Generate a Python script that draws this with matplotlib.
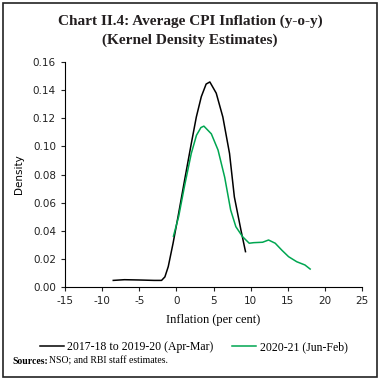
import matplotlib
matplotlib.use("Agg")
import matplotlib.pyplot as plt
from matplotlib.patches import Rectangle

plt.rcParams["axes.unicode_minus"] = False

# density curves
pre_x = [-8.5, -7.0, -5.1, -3.0, -2.0, -1.55, -1.1, -0.45, 0.22, 1.1, 2.0, 2.68,
         3.35, 4.0, 4.5, 5.36, 6.25, 7.15, 7.8, 8.7, 9.3]
pre_y = [0.0045, 0.005, 0.0048, 0.0045, 0.0045, 0.007, 0.0143, 0.031, 0.050, 0.076,
         0.102, 0.121, 0.1355, 0.1445, 0.146, 0.138, 0.121, 0.095, 0.064, 0.040, 0.025]

cur_x = [-0.4, 0.3, 1.1, 2.0, 2.7, 3.3, 3.7, 4.7, 5.6, 6.5, 7.3, 8.0, 8.9, 9.8,
         10.4, 11.6, 12.4, 13.3, 14.2, 15.1, 16.2, 17.3, 18.0]
cur_y = [0.036, 0.050, 0.072, 0.095, 0.108, 0.1135, 0.1145, 0.109, 0.0975, 0.078,
         0.0547, 0.0428, 0.0357, 0.031, 0.0314, 0.0317, 0.0333, 0.031, 0.026, 0.0214,
         0.0178, 0.0155, 0.0126]

labels = ["2017-18 to 2019-20 (Apr-Mar)", "2020-21 (Jun-Feb)"]
colors = ["#000000", "#00a651"]

serif = "Liberation Serif"
sans = "DejaVu Sans"

fig = plt.figure(figsize=(3.8, 3.8), dpi=100)
ax = fig.add_axes([0.171, 0.2455, 0.782, 0.5905])

ax.plot(pre_x, pre_y, color=colors[0], lw=1.1, label=labels[0])
ax.plot(cur_x, cur_y, color=colors[1], lw=1.1, label=labels[1])

ax.set_xlim(-15, 25)
ax.set_ylim(0, 0.16)
ax.set_xticks(range(-15, 26, 5))
ax.set_yticks([i * 0.02 for i in range(9)])
ax.set_yticklabels([f"{i * 0.02:.2f}" for i in range(9)])
for sp in ["top", "right"]:
    ax.spines[sp].set_visible(False)
ax.tick_params(labelsize=7.5, length=3, width=0.8, colors="#222222")
for lab in ax.get_xticklabels() + ax.get_yticklabels():
    lab.set_family(sans)
ax.set_ylabel("Density", fontsize=7.5, family=sans, labelpad=6)
ax.set_xlabel("Inflation (per cent)", fontsize=9, family=serif, labelpad=6)

fig.text(0.5, 0.943, "Chart II.4: Average CPI Inflation (y-o-y)", ha="center",
         va="center", fontsize=11, fontweight="bold", family=serif, color="#231f20")
fig.text(0.5, 0.893, "(Kernel Density Estimates)", ha="center",
         va="center", fontsize=11, fontweight="bold", family=serif, color="#231f20")

leg = fig.legend(loc="center", bbox_to_anchor=(0.51, 0.086), ncol=2, frameon=False,
                 prop={"family": serif, "size": 8.5}, handlelength=2.0,
                 columnspacing=1.6, handletextpad=0.3)

fig.text(0.033, 0.05, "Sources:", fontsize=7, fontweight="bold", family=serif,
         va="center")
fig.text(0.13, 0.05, "NSO; and RBI staff estimates.", fontsize=7, family=serif,
         va="center")

fig.patches.append(Rectangle((0.008, 0.008), 0.984, 0.984, transform=fig.transFigure,
                             fill=False, lw=1.2, edgecolor="#222222"))

fig.savefig("out.png", dpi=100)
